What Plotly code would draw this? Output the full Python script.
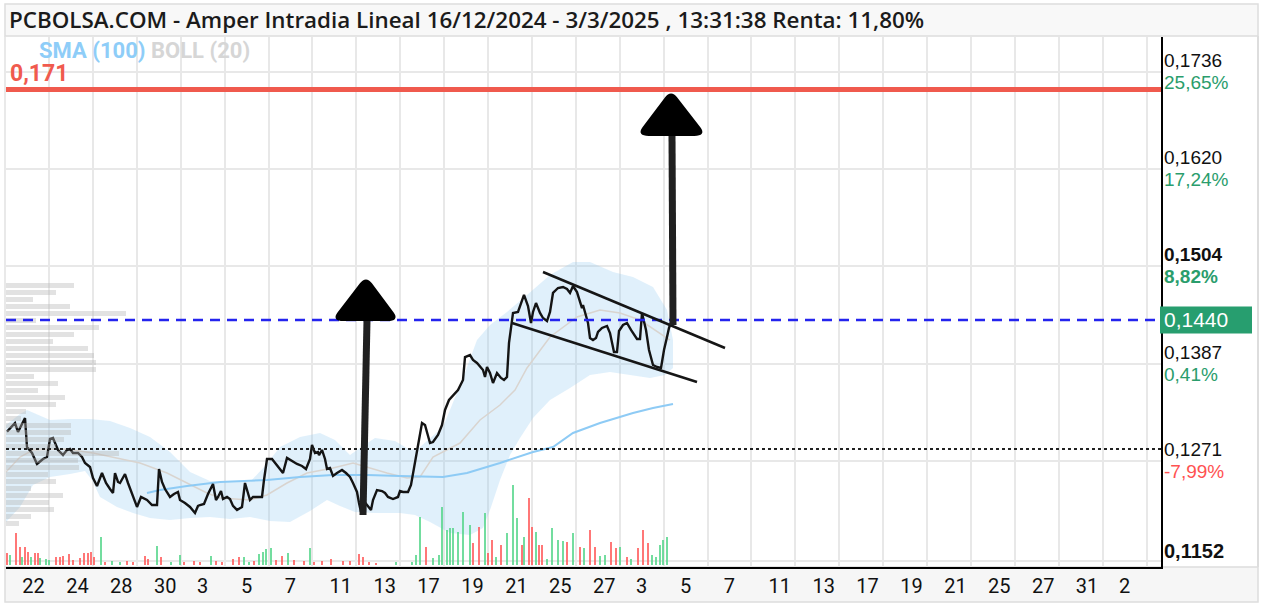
import plotly.graph_objects as go

# ---------------- data (time index = intraday bar number, price in EUR) ----------------
price_t = [1, 9, 12, 19, 21, 26, 31, 37, 41, 44,
           47, 49, 52, 57, 61, 64, 67, 72, 76, 79,
           82, 84, 87, 91, 96, 100, 104, 107, 109, 112,
           114, 119, 122, 126, 131, 135, 141, 146, 151, 153,
           156, 159, 164, 168, 172, 174, 179, 184, 189, 192,
           194, 198, 202, 207, 210, 212, 215, 217, 221, 224,
           227, 231, 236, 239, 242, 244, 247, 252, 256, 258,
           261, 266, 269, 272, 277, 281, 287, 291, 296, 300,
           304, 306, 309, 312, 313, 316, 319, 321, 324, 327,
           331, 336, 340, 344, 347, 351, 353, 355, 357, 361,
           365, 367, 371, 376, 379, 382, 387, 392, 394, 397,
           402, 405, 407, 409, 412, 416, 419, 424, 427, 432,
           436, 439, 443, 447, 452, 457, 459, 464, 467, 471,
           474, 477, 479, 481, 484, 487, 491, 495, 498, 501,
           503, 507, 512, 518, 522, 525, 527, 530, 534, 537,
           541, 544, 547, 552, 557, 561, 564, 567, 571, 574,
           576, 577, 582, 584, 587, 590, 592, 596, 601, 604,
           608, 611, 613, 617, 621, 625, 631, 634, 636, 640,
           643, 647, 651, 655, 658, 661, 663, 666]
price_v = [0.13066, 0.13169, 0.13062, 0.13229, 0.12882, 0.12811, 0.12680, 0.12740, 0.12764, 0.12978,
           0.12990, 0.12930, 0.12847, 0.12787, 0.12847, 0.12859, 0.12811, 0.12811, 0.12764, 0.12692,
           0.12656, 0.12644, 0.12513, 0.12417, 0.12572, 0.12453, 0.12381, 0.12334, 0.12572, 0.12465,
           0.12453, 0.12560, 0.12453, 0.12334, 0.12167, 0.12286, 0.12250, 0.12190, 0.12190, 0.12620,
           0.12465, 0.12381, 0.12286, 0.12322, 0.12346, 0.12250, 0.12214, 0.12167, 0.12095, 0.12179,
           0.12190, 0.12202, 0.12322, 0.12441, 0.12250, 0.12286, 0.12357, 0.12262, 0.12286, 0.12262,
           0.12179, 0.12131, 0.12167, 0.12453, 0.12310, 0.12250, 0.12286, 0.12286, 0.12286, 0.12489,
           0.12740, 0.12740, 0.12692, 0.12644, 0.12572, 0.12752, 0.12704, 0.12680, 0.12656, 0.12620,
           0.12740, 0.12907, 0.12811, 0.12823, 0.12787, 0.12847, 0.12740, 0.12620, 0.12632, 0.12537,
           0.12572, 0.12608, 0.12572, 0.12525, 0.12453, 0.12346, 0.12214, 0.12107, 0.12250, 0.12190,
           0.12131, 0.12250, 0.12369, 0.12357, 0.12334, 0.12286, 0.12262, 0.12286, 0.12357, 0.12346,
           0.12346, 0.12429, 0.12572, 0.12692, 0.12882, 0.13169, 0.13145, 0.12930, 0.12942, 0.13026,
           0.13145, 0.13325, 0.13444, 0.13492, 0.13563, 0.13683, 0.13957, 0.13981, 0.13922, 0.13886,
           0.13838, 0.13802, 0.13719, 0.13838, 0.13766, 0.13647, 0.13766, 0.13707, 0.13683, 0.13719,
           0.14125, 0.14483, 0.14495, 0.14698, 0.14566, 0.14363, 0.14495, 0.14602, 0.14483, 0.14423,
           0.14387, 0.14495, 0.14722, 0.14781, 0.14793, 0.14769, 0.14722, 0.14805, 0.14733, 0.14602,
           0.14542, 0.14578, 0.14363, 0.14184, 0.14160, 0.14184, 0.14256, 0.14304, 0.14328, 0.14244,
           0.14017, 0.14017, 0.14268, 0.14339, 0.14363, 0.14280, 0.14172, 0.14172, 0.14483, 0.14280,
           0.14041, 0.13862, 0.13838, 0.13826, 0.14041, 0.14196, 0.14304, 0.14400]

bb_up_t = [0, 14, 21, 44, 64, 84, 104, 124, 144, 164, 184, 204, 224, 244, 259, 274, 294, 314, 329, 344,
           354, 369, 389, 404, 414, 437, 457, 471, 484, 501, 521, 544, 567, 584, 607, 627, 647, 661, 667]
bb_up_v = [0.13146, 0.13277, 0.13325, 0.13205, 0.13217, 0.13217, 0.13193, 0.13110, 0.13002, 0.12823,
           0.12584, 0.12477, 0.12465, 0.12465, 0.12656, 0.12883, 0.13002, 0.13050, 0.12966, 0.12787,
           0.12871, 0.12990, 0.12954, 0.12847, 0.12883, 0.13122, 0.13707, 0.14160, 0.14339, 0.14495,
           0.14698, 0.14937, 0.15092, 0.15092, 0.14972, 0.14913, 0.14793, 0.14519, 0.14160]
bb_lo_t = [0, 14, 27, 44, 64, 79, 86, 94, 111, 127, 144, 164, 184, 204, 224, 244, 264, 284, 304, 321,
           334, 349, 369, 394, 409, 424, 444, 464, 477, 484, 494, 504, 514, 527, 544, 564, 584, 604, 624,
           644, 659, 667]
bb_lo_v = [0.11987, 0.12166, 0.12429, 0.12525, 0.12561, 0.12596, 0.12489, 0.12286, 0.12166, 0.12095,
           0.12035, 0.12011, 0.12035, 0.12047, 0.12023, 0.12047, 0.11999, 0.11987, 0.12119, 0.12250,
           0.12178, 0.12107, 0.12095, 0.12095, 0.12071, 0.11987, 0.11856, 0.11832, 0.11916, 0.12131,
           0.12489, 0.12787, 0.12990, 0.13229, 0.13444, 0.13587, 0.13743, 0.13778, 0.13743, 0.13707,
           0.13743, 0.13826]

sma20_t = [0, 14, 27, 61, 87, 111, 134, 161, 181, 201, 214, 244, 261, 281, 301, 327, 347, 361, 381, 401,
           414, 427, 454, 474, 494, 509, 521, 544, 571, 594, 614, 634, 654, 664]
sma20_v = [0.12584, 0.12763, 0.12847, 0.12859, 0.12811, 0.12752, 0.12692, 0.12572, 0.12453, 0.12334,
           0.12274, 0.12250, 0.12310, 0.12453, 0.12572, 0.12632, 0.12692, 0.12644, 0.12572, 0.12513,
           0.12525, 0.12763, 0.12930, 0.13205, 0.13384, 0.13563, 0.13826, 0.14196, 0.14435, 0.14519,
           0.14483, 0.14399, 0.14244, 0.14160]

sma100_t = [141, 154, 181, 214, 261, 294, 327, 361, 394, 437, 461, 494, 527, 547, 567, 594, 627, 647, 667]
sma100_v = [0.12334, 0.12369, 0.12417, 0.12465, 0.12489, 0.12525, 0.12549, 0.12549, 0.12537, 0.12525,
            0.12572, 0.12692, 0.12823, 0.12883, 0.13050, 0.13169, 0.13289, 0.13348, 0.13396]

# volume per bar (thousand shares) and direction (1 = up / green, 0 = down / red)
vol_t = [1, 4, 10, 14, 16, 19, 22, 25, 29, 32, 34, 40, 43, 50, 54, 57, 63, 67, 74, 78,
         82, 85, 88, 95, 99, 106, 114, 121, 127, 139, 142, 151, 155, 165, 174, 178, 188, 194, 205, 210,
         216, 227, 233, 238, 243, 248, 253, 257, 260, 265, 270, 276, 282, 288, 298, 304, 308, 316, 325, 337,
         344, 353, 357, 363, 370, 390, 406, 410, 414, 420, 427, 433, 436, 441, 444, 447, 452, 457, 464, 467,
         473, 479, 482, 486, 490, 495, 501, 507, 511, 516, 518, 523, 526, 530, 533, 536, 541, 546, 552, 557,
         561, 567, 574, 578, 584, 589, 594, 599, 605, 610, 614, 621, 625, 632, 637, 642, 646, 650, 654, 657,
         661]
vol = [12, 10, 32, 18, 8, 18, 13, 8, 12, 12, 7, 6, 5, 8, 8, 9, 11, 5, 7, 12,
       12, 13, 8, 28, 3, 4, 3, 4, 3, 9, 6, 19, 8, 3, 10, 3, 4, 3, 9, 4,
       3, 6, 8, 8, 3, 4, 11, 13, 16, 17, 5, 9, 12, 5, 4, 17, 3, 4, 6, 4,
       4, 11, 8, 3, 2, 3, 3, 10, 48, 18, 7, 10, 58, 35, 37, 37, 33, 53, 40, 22,
       38, 52, 12, 25, 8, 20, 32, 80, 47, 20, 28, 67, 38, 33, 20, 20, 6, 37, 25, 24,
       23, 32, 18, 17, 35, 18, 9, 10, 23, 17, 18, 8, 6, 17, 35, 22, 10, 8, 20, 25,
       28]
vol_up = [0, 1, 0, 0, 1, 0, 0, 1, 0, 0, 1, 1, 1, 0, 0, 0, 0, 0, 0, 0,
          0, 0, 0, 1, 0, 1, 1, 0, 0, 0, 0, 1, 0, 1, 1, 0, 0, 0, 1, 0,
          0, 0, 0, 1, 1, 0, 1, 1, 1, 1, 0, 0, 1, 0, 0, 1, 0, 0, 0, 0,
          0, 0, 0, 0, 0, 1, 1, 1, 1, 0, 1, 1, 1, 1, 1, 1, 1, 1, 1, 0,
          0, 1, 0, 0, 1, 0, 1, 1, 1, 0, 1, 0, 0, 1, 0, 0, 1, 1, 1, 1,
          0, 1, 0, 1, 0, 0, 1, 1, 0, 0, 1, 0, 1, 0, 0, 0, 1, 1, 1, 1,
          1]

# volume-at-price profile (top bin first)
profile_top = 0.14811
profile_step = 0.000836
profile_vol = [68, 50, 27, 64, 120, 30, 93, 68, 47, 82, 88, 90, 90, 28, 52, 32, 59, 50, 20, 15,
               65, 65, 58, 50, 113, 72, 73, 42, 50, 25, 57, 43, 48, 25, 13]

# axis labels
x_labels = ["22", "24", "28", "30", "3", "5", "7", "11", "13", "17", "19", "21", "25", "27",
            "3", "5", "7", "11", "13", "17", "19", "21", "25", "27", "31", "2"]
y_levels = [0.1736, 0.1620, 0.1504, 0.1387, 0.1271, 0.1152]
y_price_lbl = ["0,1736", "0,1620", "0,1504", "0,1387", "0,1271", "0,1152"]
y_pct_lbl = ["25,65%", "17,24%", "8,82%", "0,41%", "-7,99%", "-16,64%"]
y_bold = [False, False, True, False, False, True]

last_price = 0.1440
last_lbl = "0,1440"
ref_level = 0.1286
target_level = 0.1715
target_lbl = "0,171"

# hand-drawn chart annotations (time index, price)
chan_upper = [(537, 0.14972), (719, 0.14065)]
chan_lower = [(506, 0.14363), (691, 0.13659)]
arrow1_shaft = [(357, 0.12071), (361, 0.14399)]
arrow1_head = [(327, 0.14399), (360, 0.14913), (392, 0.14399)]
arrow2_shaft = [(667, 0.14340), (666, 0.16608)]
arrow2_head = [(632, 0.16608), (665, 0.17133), (699, 0.16608)]

title = "PCBOLSA.COM - Amper Intradia Lineal 16/12/2024 - 3/3/2025 , 13:31:38 Renta: 11,80%"

# ---------------- layout geometry ----------------
W, H = 1264, 608
PL, PR, PT, PB = 6, 1161, 37, 567
X_RANGE = [0, 1155]
Y_RANGE = [0.11450, 0.17778]
GRID0, GRIDSTEP = 43, 43.9


def pxx(px):
    return (px - PL) / (PR - PL)


def pxy(py):
    return (PB - py) / (PB - PT)


GREEN_TXT = "#2a9d6c"
RED_TXT = "#ff5252"

fig = go.Figure()

# Bollinger band fill
fig.add_trace(go.Scatter(
    x=bb_up_t + bb_lo_t[::-1], y=bb_up_v + bb_lo_v[::-1],
    fill="toself", fillcolor="rgba(135,196,240,0.26)", line=dict(width=0),
    mode="lines", hoverinfo="skip"))
# Bollinger middle
fig.add_trace(go.Scatter(x=sma20_t, y=sma20_v, mode="lines",
                         line=dict(color="#d9d4cf", width=1.5), hoverinfo="skip"))
# SMA 100
fig.add_trace(go.Scatter(x=sma100_t, y=sma100_v, mode="lines",
                         line=dict(color="#8ecbf5", width=2), hoverinfo="skip"))
# price
fig.add_trace(go.Scatter(x=price_t, y=price_v, mode="lines",
                         line=dict(color="#141414", width=2.4), hoverinfo="skip"))
# volume bars
fig.add_trace(go.Bar(x=vol_t, y=vol, width=2.8,
                     marker=dict(color=["rgba(80,212,135,0.8)" if u else "rgba(255,85,85,0.8)" for u in vol_up],
                                 line=dict(width=0)),
                     xaxis="x", yaxis="y2", hoverinfo="skip"))
# volume profile
profile_levels = [profile_top - i * profile_step for i in range(len(profile_vol))]
fig.add_trace(go.Bar(x=profile_vol, y=profile_levels, orientation="h", width=profile_step * 0.8,
                     marker=dict(color="rgba(180,180,180,0.38)", line=dict(width=0)),
                     xaxis="x2", yaxis="y", hoverinfo="skip"))

shapes = []
# frame
shapes.append(dict(type="rect", xref="paper", yref="paper", x0=pxx(5), x1=pxx(1258), y0=pxy(4), y1=pxy(36),
                   fillcolor="#f8f8f8", line=dict(color="#dddddd", width=1.5), layer="below"))
shapes.append(dict(type="rect", xref="paper", yref="paper", x0=pxx(5), x1=pxx(1258), y0=pxy(567), y1=pxy(602),
                   fillcolor="#f6f6f6", line=dict(color="#dddddd", width=1.5), layer="below"))
shapes.append(dict(type="line", xref="paper", yref="paper", x0=pxx(1258), x1=pxx(1258), y0=pxy(36), y1=pxy(567),
                   line=dict(color="#dddddd", width=2), layer="below"))
shapes.append(dict(type="line", xref="paper", yref="paper", x0=pxx(5), x1=pxx(5), y0=pxy(36), y1=pxy(567),
                   line=dict(color="#e2e2e2", width=1.5), layer="below"))
# horizontal levels
shapes.append(dict(type="line", xref="x", yref="y", x0=X_RANGE[0], x1=X_RANGE[1], y0=target_level, y1=target_level,
                   line=dict(color="#f05a4e", width=5)))
shapes.append(dict(type="line", xref="x", yref="y", x0=X_RANGE[0], x1=X_RANGE[1], y0=last_price, y1=last_price,
                   line=dict(color="#2424ee", width=2.5, dash="10px,7px")))
shapes.append(dict(type="line", xref="x", yref="y", x0=X_RANGE[0], x1=X_RANGE[1], y0=ref_level, y1=ref_level,
                   line=dict(color="#222222", width=2, dash="3px,3px")))
# channel
for seg in (chan_upper, chan_lower):
    shapes.append(dict(type="line", xref="x", yref="y", x0=seg[0][0], y0=seg[0][1], x1=seg[1][0], y1=seg[1][1],
                       line=dict(color="#161616", width=2.5)))
# arrows
for seg in (arrow1_shaft, arrow2_shaft):
    shapes.append(dict(type="line", xref="x", yref="y", x0=seg[0][0], y0=seg[0][1], x1=seg[1][0], y1=seg[1][1],
                       line=dict(color="#202020", width=7)))


def rounded_tri(pts, f=0.16):
    n = len(pts)
    segs = []
    for i in range(n):
        p = pts[i]
        a = pts[i - 1]
        b = pts[(i + 1) % n]
        pin = (p[0] + (a[0] - p[0]) * f, p[1] + (a[1] - p[1]) * f)
        pout = (p[0] + (b[0] - p[0]) * f, p[1] + (b[1] - p[1]) * f)
        segs.append((pin, p, pout))
    d = "M %f,%f " % segs[0][2]
    for i in range(1, n + 1):
        pin, p, pout = segs[i % n]
        d += "L %f,%f Q %f,%f %f,%f " % (pin[0], pin[1], p[0], p[1], pout[0], pout[1])
    return d + "Z"


for head in (arrow1_head, arrow2_head):
    shapes.append(dict(type="path", xref="x", yref="y", path=rounded_tri(head),
                       fillcolor="#000000", line=dict(color="#000000", width=2)))

# last price box
box_h = 13.5 * (Y_RANGE[1] - Y_RANGE[0]) / (PB - PT)
shapes.append(dict(type="rect", xref="paper", yref="y", x0=pxx(1160), x1=pxx(1252),
                   y0=last_price - box_h, y1=last_price + box_h,
                   fillcolor="#279e6f", line=dict(width=0)))

annotations = []
annotations.append(dict(text=title, xref="paper", yref="paper", x=pxx(7), y=pxy(19), xanchor="left",
                        yanchor="middle", showarrow=False,
                        font=dict(family="Open Sans", size=22.4, color="#1b1b1b", weight=600)))
annotations.append(dict(text="<span style='color:#8ecdf8'>SMA (100)</span> <span style='color:#d6d6d6'>BOLL (20)</span>",
                        xref="paper", yref="paper", x=pxx(37), y=pxy(50), xanchor="left", yanchor="middle",
                        showarrow=False, font=dict(family="Roboto", size=22, weight=700)))
annotations.append(dict(text=target_lbl, xref="paper", yref="y", x=pxx(8), y=target_level, xanchor="left",
                        yanchor="bottom", yshift=1, showarrow=False,
                        font=dict(family="Roboto", size=23, color="#f05a4e", weight=700)))
LBL = "font-size:19px"
for lv, pl, pc, bd in zip(y_levels, y_price_lbl, y_pct_lbl, y_bold):
    col = RED_TXT if pc.startswith("-") else GREEN_TXT
    if bd:
        pl_t, pc_t = "<b>%s</b>" % pl, "<b>%s</b>" % pc
    else:
        pl_t, pc_t = pl, pc
    if lv - Y_RANGE[0] > 0.002:
        txt = "<span style='%s'>%s</span><br><span style='%s;color:%s'>%s</span>" % (LBL, pl_t, LBL, col, pc_t)
        annotations.append(dict(text=txt, xref="paper", yref="y", x=pxx(1162), y=lv, xanchor="left",
                                yanchor="middle", align="left", yshift=1, showarrow=False,
                                font=dict(family="Liberation Sans", size=17, color="#111111")))
    else:
        annotations.append(dict(text=pl_t, xref="paper", yref="y", x=pxx(1162), y=lv, xanchor="left",
                                yanchor="middle", yshift=10, showarrow=False,
                                font=dict(family="Liberation Sans", size=20, color="#111111")))
annotations.append(dict(text=last_lbl, xref="paper", yref="y", x=pxx(1162), y=last_price, xanchor="left",
                        yanchor="middle", showarrow=False,
                        font=dict(family="Liberation Sans", size=21, color="#ffffff")))

grid_pos = [GRID0 + GRIDSTEP * k for k in range(len(x_labels))]
label_pos = [g - (15.5 if len(s) == 2 else 22) for g, s in zip(grid_pos, x_labels)]

fig.update_layout(
    width=W, height=H, margin=dict(l=PL, r=W - PR, t=PT, b=H - PB, pad=0),
    paper_bgcolor="white", plot_bgcolor="white", showlegend=False, hovermode=False,
    bargap=0,
    xaxis=dict(range=X_RANGE, tickmode="array", tickvals=label_pos, ticktext=x_labels, showgrid=False,
               ticks="", zeroline=False, showline=True, linecolor="black", linewidth=2,
               tickfont=dict(family="Roboto", size=20, color="#111111"), ticklabelstandoff=0,
               minor=dict(tick0=GRID0, dtick=GRIDSTEP, showgrid=True, gridcolor="#e8e8e8", gridwidth=2, ticks=""),
               fixedrange=True),
    yaxis=dict(range=Y_RANGE, tickmode="array", tickvals=y_levels, showticklabels=False, ticks="",
               showgrid=True, gridcolor="#e8e8e8", gridwidth=2, zeroline=False, side="right",
               showline=True, linecolor="black", linewidth=2, fixedrange=True),
    yaxis2=dict(range=[-2, 528], overlaying="y", visible=False, fixedrange=True),
    xaxis2=dict(range=X_RANGE, overlaying="x", visible=False, fixedrange=True),
    shapes=shapes, annotations=annotations,
)

fig.write_html("out.html")
